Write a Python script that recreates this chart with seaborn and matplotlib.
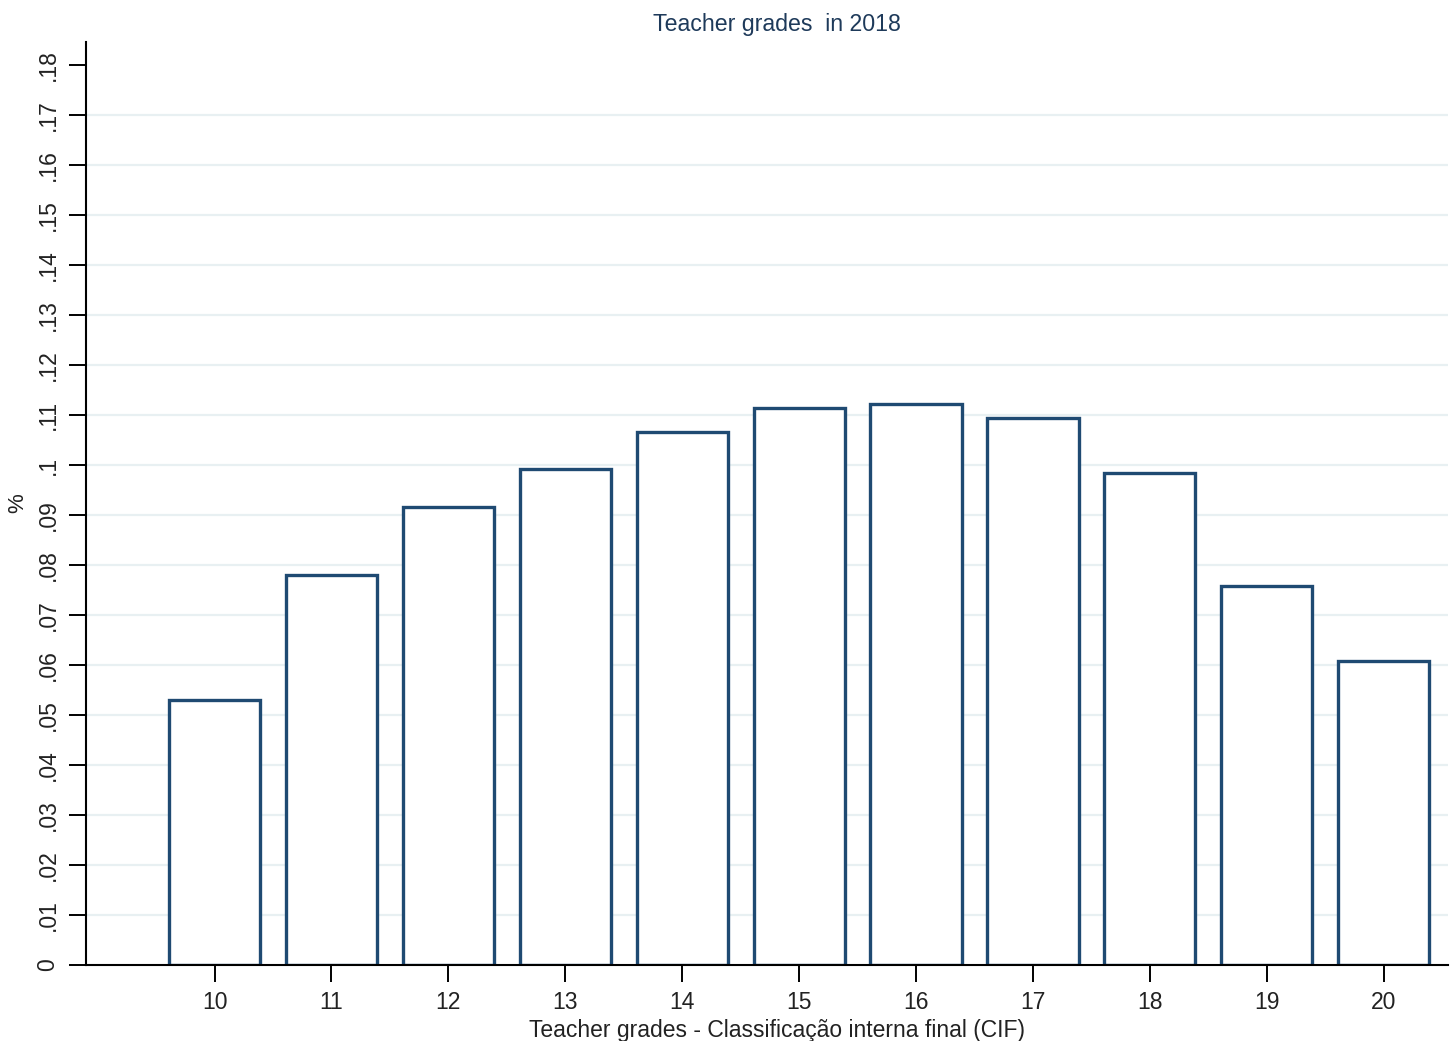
import matplotlib
matplotlib.use("Agg")
import matplotlib.pyplot as plt
import seaborn as sns
import pandas as pd

# teacher grades (CIF) and share of students
grades = [10, 11, 12, 13, 14, 15, 16, 17, 18, 19, 20]
share = [0.053, 0.078, 0.0916, 0.0992, 0.1065, 0.1113, 0.1121, 0.1093, 0.0983, 0.0757, 0.0607]
yticks = [0, .01, .02, .03, .04, .05, .06, .07, .08, .09, .10, .11, .12, .13, .14, .15, .16, .17, .18]
ytick_labels = ["0", ".01", ".02", ".03", ".04", ".05", ".06", ".07", ".08", ".09", ".1",
                ".11", ".12", ".13", ".14", ".15", ".16", ".17", ".18"]

df = pd.DataFrame({"grade": grades, "share": share})

sns.set_style("white")
plt.rcParams["font.family"] = ["Liberation Sans", "DejaVu Sans"]

fig = plt.figure(figsize=(14.5, 10.41), dpi=100)
ax = fig.add_axes([0.0593, 0.073, 0.9393, 0.8867])

navy = "#1f4a72"
for y in yticks[1:-1]:
    ax.axhline(y, color="#e8f0f2", lw=1.6, zorder=0)

sns.barplot(data=df, x="grade", y="share", native_scale=True, width=0.78,
            color="white", edgecolor=navy, linewidth=2.4, ax=ax, zorder=2)
for p in ax.patches:
    p.set_facecolor("white")
    p.set_edgecolor(navy)

ax.set_xlim(8.9, 20.55)
ax.set_ylim(0, 0.1846)
ax.set_xticks(grades)
ax.set_xticklabels([str(g) for g in grades], fontsize=16.5, color="#222222")
ax.set_yticks(yticks)
ax.set_yticklabels(ytick_labels, rotation=90, va="center", fontsize=16.5, color="#222222")

for side in ["top", "right"]:
    ax.spines[side].set_visible(False)
for side in ["left", "bottom"]:
    ax.spines[side].set_color("black")
    ax.spines[side].set_linewidth(1.5)
ax.tick_params(axis="both", length=12, width=1.4, color="black", pad=7, left=True, bottom=True)

ax.set_title("Teacher grades  in 2018", fontsize=16.7, color="#1e3a5a", pad=8, x=0.507)
ax.set_xlabel("Teacher grades - Classificação interna final (CIF)", fontsize=16.5, color="#222222", labelpad=3)
ax.xaxis.set_label_coords(0.507, -0.058)
ax.set_ylabel("%", fontsize=16, color="#222222", labelpad=6)

fig.savefig("out.png", dpi=100)
